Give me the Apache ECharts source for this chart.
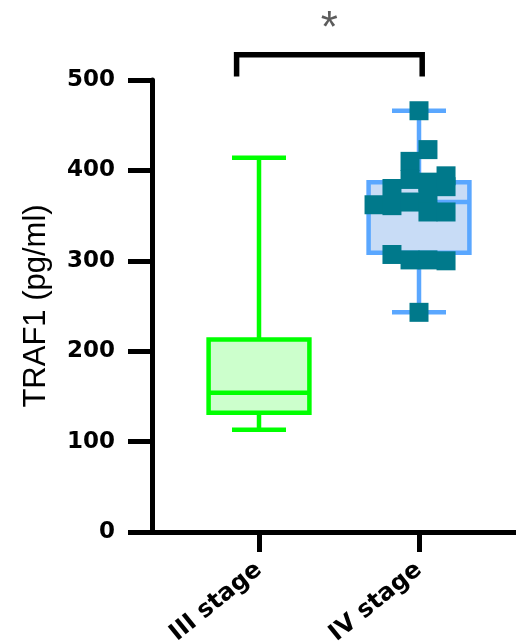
<!DOCTYPE html>
<html><head><meta charset="utf-8">
<script src="https://cdn.jsdelivr.net/npm/echarts@6/dist/echarts.min.js"></script>
<style>html,body{margin:0;padding:0;background:#fff}#c{width:516px;height:643px}</style>
</head><body><div id="c"></div>
<script>
// ---- data ----
const categories = ['III stage', 'IV stage'];
const boxMin = [113, 243];
const boxQ1 = [132, 309];
const boxMedian = [154, 365];
const boxQ3 = [213, 387];
const boxMax = [414, 466];
const ivValues = [466, 423, 410, 394, 390, 387, 380, 382, 362, 361, 365, 370, 354, 354, 307, 301, 301, 300, 243];
const ivJitter = [0, 0.056, -0.056, 0.169, -0.056, 0.056, -0.169, 0.169, -0.281, -0.169, -0.056, 0.056, 0.056, 0.169, -0.169, -0.056, 0.056, 0.169, 0];
const yTicks = [0, 100, 200, 300, 400, 500];
const yTitle = 'TRAF1 (pg/ml)';
const sigLabel = '*';
const bracketLow = 504;
const bracketHigh = 528;
const bracketLeft = -0.14;
const bracketRight = 1.02;
const sigY = 555;

// ---- styles ----
const boxStroke = ['#00ff00', '#5aa7ff'];
const boxFill = ['#ccffcc', '#c8dcf6'];
const pointColor = '#00798b';

const boxData = categories.map((c, i) => [c, boxMin[i], boxQ1[i], boxMedian[i], boxQ3[i], boxMax[i]]);
const ivPoints = ivValues.map((v, k) => [1 + ivJitter[k], v]);

function renderBox(params, api) {
  const i = params.dataIndex;
  const xi = api.value(0);
  const band = api.size([1, 0])[0];
  const bw = band * 0.63, cw = band * 0.3375;
  const x = api.coord([xi, 0])[0];
  const y = v => api.coord([xi, v])[1];
  const yMin = y(api.value(1)), yQ1 = y(api.value(2)), yMed = y(api.value(3)), yQ3 = y(api.value(4)), yMax = y(api.value(5));
  const ls = { stroke: boxStroke[i], lineWidth: 4.5 };
  return {
    type: 'group',
    children: [
      { type: 'line', shape: { x1: x, y1: yMax, x2: x, y2: yQ3 }, style: ls },
      { type: 'line', shape: { x1: x, y1: yQ1, x2: x, y2: yMin }, style: ls },
      { type: 'line', shape: { x1: x - cw / 2, y1: yMax, x2: x + cw / 2, y2: yMax }, style: ls },
      { type: 'line', shape: { x1: x - cw / 2, y1: yMin, x2: x + cw / 2, y2: yMin }, style: ls },
      { type: 'rect', shape: { x: x - bw / 2, y: yQ3, width: bw, height: yQ1 - yQ3 }, style: { fill: boxFill[i], stroke: boxStroke[i], lineWidth: 4.5 } },
      { type: 'line', shape: { x1: x - bw / 2, y1: yMed, x2: x + bw / 2, y2: yMed }, style: ls }
    ]
  };
}

const chart = echarts.init(document.getElementById('c'), null, { renderer: 'canvas' });
chart.setOption({
  backgroundColor: '#fff',
  animation: false,
  grid: [
    { left: 179, right: 17, top: 80, bottom: 111, outerBoundsMode: 'none', containLabel: false },
    { left: 152, right: 0, top: 80, bottom: 111, outerBoundsMode: 'none', containLabel: false }
  ],
  xAxis: [
    {
      type: 'category', gridIndex: 0, data: categories, boundaryGap: true,
      axisLine: { show: false },
      axisTick: { show: true, alignWithLabel: true, length: 20, lineStyle: { color: '#000', width: 5 } },
      axisLabel: { rotate: 39, margin: 35, fontFamily: 'DejaVu Sans', fontWeight: 'bold', fontSize: 24, color: '#000' },
      splitLine: { show: false }
    },
    { type: 'value', gridIndex: 0, min: -0.5, max: 1.5, show: false },
    {
      type: 'value', gridIndex: 1, min: 0, max: 1,
      axisLine: { show: true, onZero: false, lineStyle: { color: '#000', width: 5 } },
      axisTick: { show: false }, axisLabel: { show: false }, splitLine: { show: false }
    }
  ],
  yAxis: [
    {
      type: 'value', gridIndex: 0, min: yTicks[0], max: yTicks[yTicks.length - 1], interval: 100, offset: 27,
      axisLine: { show: true, onZero: false, lineStyle: { color: '#000', width: 5 } },
      axisTick: { show: true, length: 24, lineStyle: { color: '#000', width: 5 } },
      axisLabel: { margin: 37, fontFamily: 'DejaVu Sans', fontWeight: 'bold', fontSize: 23, color: '#000' },
      splitLine: { show: false },
      name: yTitle, nameLocation: 'middle', nameGap: 100,
      nameTextStyle: { fontFamily: 'Liberation Sans', fontSize: 31, color: '#000' }
    },
    { type: 'value', gridIndex: 1, min: 0, max: 1, show: false }
  ],
  series: [
    {
      type: 'custom', xAxisIndex: 0, yAxisIndex: 0, data: boxData,
      encode: { x: 0, y: [1, 2, 3, 4, 5] },
      renderItem: renderBox, z: 2, clip: false
    },
    {
      type: 'scatter', xAxisIndex: 1, yAxisIndex: 0, data: ivPoints,
      symbol: 'rect', symbolSize: 19, itemStyle: { color: pointColor, opacity: 1 }, z: 3
    },
    {
      type: 'line', xAxisIndex: 1, yAxisIndex: 0, clip: false, symbol: 'none',
      data: [[bracketLeft, bracketLow], [bracketLeft, bracketHigh], [bracketRight, bracketHigh], [bracketRight, bracketLow]],
      lineStyle: { color: '#000', width: 5.5, join: 'miter' }, z: 3
    },
    {
      type: 'scatter', xAxisIndex: 1, yAxisIndex: 0, clip: false,
      data: [[(bracketLeft + bracketRight) / 2, sigY]], symbolSize: 1, itemStyle: { color: 'transparent' },
      label: { show: true, position: 'inside', formatter: sigLabel, fontFamily: 'Liberation Sans', fontSize: 44, color: '#333' }
    }
  ]
});
</script>
</body></html>
